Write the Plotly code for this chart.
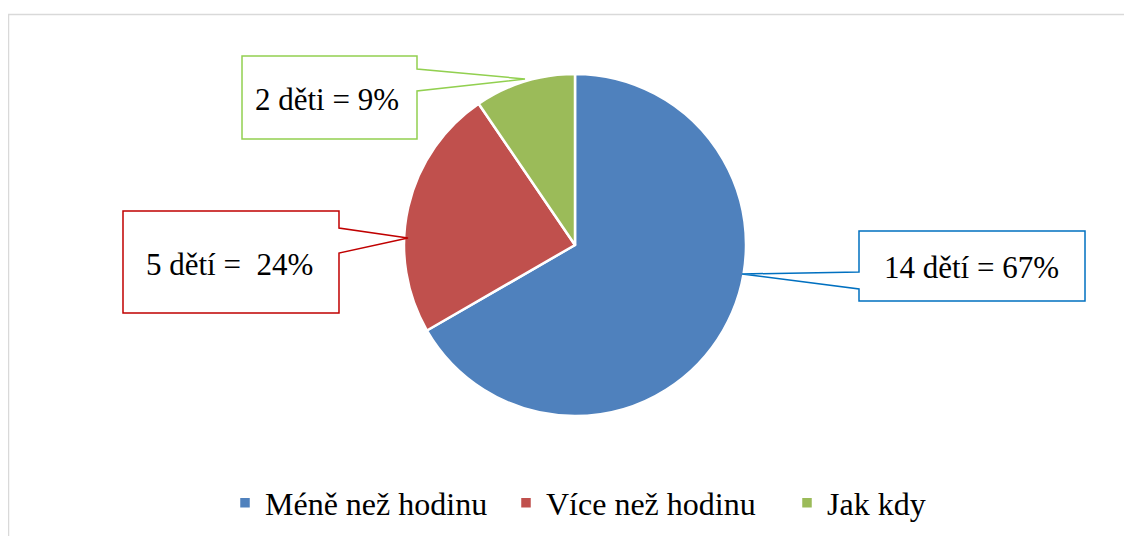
import plotly.graph_objects as go

# ---- data ----
categories = ["Méně než hodinu", "Více než hodinu", "Jak kdy"]
counts = [14, 5, 2]
label_texts = ["14 dětí = 67%", "5 dětí =\u00a0 24%", "2 děti = 9%"]
colors = ["#4F81BD", "#C0504D", "#9BBB59"]
callout_colors = ["#0070C0", "#C00000", "#92D050"]

OFF = 8  # page body margin
W, H = 1132 - OFF, 536 - OFF
SERIF = "Liberation Serif"


def px(x):
    return (x - OFF) / W


def py(y):
    return 1 - (y - OFF) / H


fig = go.Figure(
    go.Pie(
        labels=categories,
        values=counts,
        sort=False,
        direction="clockwise",
        rotation=0,
        marker=dict(colors=colors, line=dict(color="white", width=2.5)),
        textinfo="none",
        hoverinfo="label+value+percent",
        domain=dict(x=[px(404), px(746)], y=[py(416), py(74)]),
    )
)

shapes = []
# outer chart border
shapes.append(dict(type="rect", xref="paper", yref="paper",
                   x0=px(8.5), x1=px(1145), y0=py(545), y1=py(14.5),
                   line=dict(color="#D9D9D9", width=1.5), fillcolor="rgba(0,0,0,0)", layer="below"))


def callout_path(pts):
    return "M " + " L ".join(f"{px(x):.5f},{py(y):.5f}" for x, y in pts) + " Z"


# callout outlines (box + pointer), positions in pixel space
callouts = [
    [(859, 231), (1085, 231), (1085, 301), (859, 301), (859, 289), (742, 274), (859, 272)],
    [(123, 211), (339, 211), (339, 228), (408, 238), (339, 253), (339, 313), (123, 313)],
    [(242, 56), (417, 56), (417, 69), (525, 79), (417, 91), (417, 139), (242, 139)],
]
text_pos = [(971, 267), (229, 264), (327, 99)]

annotations = []
for pts, col, txt, (tx, ty) in zip(callouts, callout_colors, label_texts, text_pos):
    shapes.append(dict(type="path", xref="paper", yref="paper", path=callout_path(pts),
                       line=dict(color=col, width=1.5), fillcolor="white", layer="above"))
    annotations.append(dict(xref="paper", yref="paper", x=px(tx), y=py(ty), text=txt,
                            showarrow=False, xanchor="center", yanchor="middle",
                            font=dict(family=SERIF, size=31, color="black")))

fig.update_layout(
    width=W, height=H,
    margin=dict(l=0, r=0, t=0, b=0),
    paper_bgcolor="white",
    plot_bgcolor="white",
    shapes=shapes,
    annotations=annotations,
    showlegend=True,
    legend=dict(orientation="h", x=px(225), y=py(503), xanchor="left", yanchor="middle",
                font=dict(family=SERIF, size=32, color="black"),
                entrywidthmode="pixels", entrywidth=236,
                itemclick=False, itemdoubleclick=False, tracegroupgap=0),
)

fig.write_html("out.html")
